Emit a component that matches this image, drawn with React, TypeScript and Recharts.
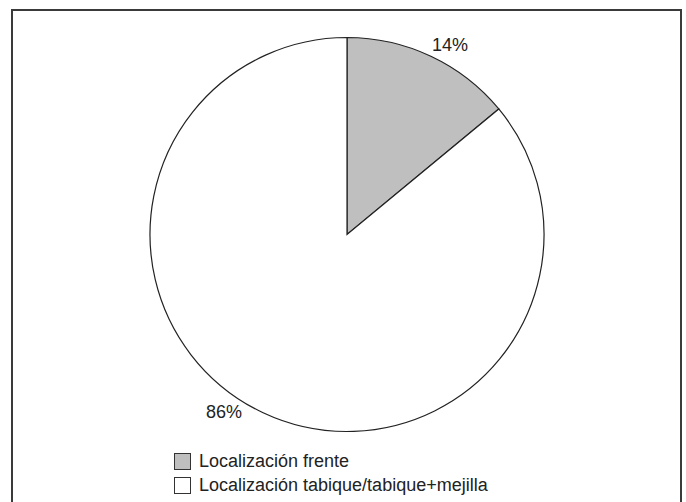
import React from 'react';
import { PieChart, Pie, Cell, Legend } from 'recharts';

const categories = ['Localización frente', 'Localización tabique/tabique+mejilla'];
const shares = [14, 86];
const fills = ['#bfbfbf', '#ffffff'];
// small angular nudges so the labels sit where the original puts them
const labelShift = [-3.3, -9.5];

const data = categories.map((name, i) => ({ name, value: shares[i] }));

const FONT = '"Liberation Sans", Arial, Helvetica, sans-serif';
const RAD = Math.PI / 180;

const renderLabel = (props: any) => {
  const { cx, cy, midAngle, outerRadius, index, value } = props;
  const a = (midAngle + labelShift[index]) * RAD;
  const r = outerRadius + 19;
  const x = cx + r * Math.cos(a);
  const y = cy - r * Math.sin(a);
  return (
    <text
      x={x}
      y={y}
      textAnchor="middle"
      dominantBaseline="central"
      fontSize={18}
      fontFamily={FONT}
      fill="#222"
    >
      {value}%
    </text>
  );
};

const LegendBox = ({ payload }: any) => (
  <div style={{ fontFamily: FONT, fontSize: 18, color: '#222' }}>
    {(payload || []).map((entry: any, i: number) => (
      <div key={i} style={{ display: 'flex', alignItems: 'center', height: 24 }}>
        <span
          style={{
            display: 'inline-block',
            width: 17,
            height: 17,
            boxSizing: 'border-box',
            border: '1px solid #333',
            background: fills[i],
            marginRight: 8,
          }}
        />
        <span style={{ lineHeight: '24px' }}>{entry.value}</span>
      </div>
    ))}
  </div>
);

export default function App() {
  return (
    <div style={{ position: 'absolute', left: 0, top: 0, width: 686, height: 502, overflow: 'hidden', background: '#fff' }}>
      <div
        style={{
          position: 'absolute',
          left: 11,
          top: 9,
          width: 671,
          height: 520,
          border: '2px solid #3a3a3a',
          boxSizing: 'border-box',
        }}
      />
      <div style={{ position: 'absolute', left: 0, top: 0 }}>
        <PieChart width={686} height={502} margin={{ top: 0, right: 0, bottom: 0, left: 0 }}>
          <Pie
            data={data}
            dataKey="value"
            nameKey="name"
            cx={347}
            cy={234.5}
            outerRadius={197}
            startAngle={90}
            endAngle={-270}
            stroke="#222"
            strokeWidth={1.2}
            label={renderLabel}
            labelLine={false}
            isAnimationActive={false}
          >
            {data.map((d, i) => (
              <Cell key={d.name} fill={fills[i]} />
            ))}
          </Pie>
          <Legend
            content={<LegendBox />}
            layout="vertical"
            wrapperStyle={{ position: 'absolute', left: 174, top: 449, width: 400 }}
          />
        </PieChart>
      </div>
    </div>
  );
}
